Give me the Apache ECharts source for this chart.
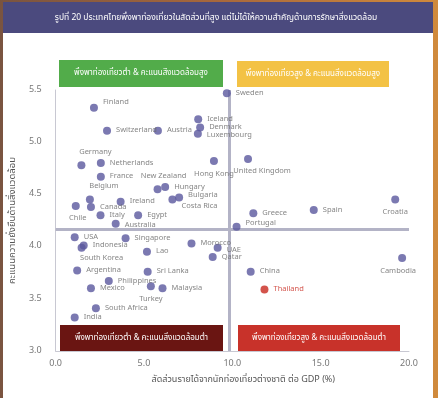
<!DOCTYPE html>
<html>
<head>
<meta charset="utf-8">
<script src="https://cdn.jsdelivr.net/npm/echarts@6/dist/echarts.min.js"></script>
<style>
  html, body { margin: 0; padding: 0; }
  body { width: 438px; height: 398px; background: linear-gradient(90deg, #7a5440 0%, #a8683c 50%, #d08a3c 100%); }
  #chart { width: 438px; height: 398px; }
</style>
</head>
<body>
<div id="chart"></div>
<script>
// countries, tourism receipts share of GDP (%), environmental score
const countries = ['Finland', 'Switzerland', 'Austria', 'Iceland', 'Denmark', 'Luxembourg', 'Sweden',
  'Germany', 'Netherlands', 'France', 'Hong Kong', 'New Zealand', 'Hungary', 'Bulgaria', 'Costa Rica',
  'Belgium', 'Canada', 'Chile', 'Ireland', 'Italy', 'Egypt', 'Australia', 'USA', 'Indonesia',
  'South Korea', 'Singapore', 'Lao', 'Morocco', 'UAE', 'Qatar', 'Argentina', 'Philippines',
  'Sri Lanka', 'Mexico', 'Turkey', 'Malaysia', 'South Africa', 'India', 'United Kingdom',
  'Greece', 'Spain', 'Croatia', 'Portugal', 'China', 'Thailand', 'Cambodia'];
const tourismShare = [2.17, 2.91, 5.79, 8.07, 8.18, 8.05, 9.69,
  1.46, 2.56, 2.56, 8.96, 5.77, 6.20, 6.99, 6.61,
  1.94, 2.00, 1.14, 3.68, 2.54, 4.67, 3.40, 1.08, 1.59,
  1.47, 3.96, 5.17, 7.69, 9.17, 8.89, 1.22, 3.01,
  5.21, 2.00, 5.39, 6.05, 2.28, 1.08, 10.89,
  11.19, 14.61, 19.22, 10.24, 11.04, 11.82, 19.61];
const envScore = [5.33, 5.11, 5.11, 5.22, 5.14, 5.08, 5.47,
  4.78, 4.80, 4.67, 4.82, 4.55, 4.57, 4.47, 4.45,
  4.45, 4.38, 4.39, 4.43, 4.30, 4.30, 4.22, 4.09, 4.01,
  3.99, 4.08, 3.95, 4.03, 3.99, 3.90, 3.77, 3.67,
  3.76, 3.60, 3.62, 3.60, 3.41, 3.32, 4.84,
  4.32, 4.35, 4.45, 4.19, 3.76, 3.59, 3.89];
const xTicks = [0, 5, 10, 15, 20];
const yTicks = [3.0, 3.5, 4.0, 4.5, 5.0, 5.5];
const xDivider = 9.85;
const yDivider = 4.17;
const highlight = 'Thailand';

const title = 'รูปที่ 20 ประเทศไทยพึ่งพาท่องเที่ยวในสัดส่วนที่สูง แต่ไม่ได้ให้ความสำคัญด้านการรักษาสิ่งแวดล้อม';
const xName = 'สัดส่วนรายได้จากนักท่องเที่ยวต่างชาติ ต่อ GDP (%)';
const yName = 'คะแนนความยั่งยืนด้านสิ่งแวดล้อม';
const quadLabels = ['พึ่งพาท่องเที่ยวต่ำ & คะแนนสิ่งแวดล้อมสูง', 'พึ่งพาท่องเที่ยวสูง & คะแนนสิ่งแวดล้อมสูง',
  'พึ่งพาท่องเที่ยวต่ำ & คะแนนสิ่งแวดล้อมต่ำ', 'พึ่งพาท่องเที่ยวสูง & คะแนนสิ่งแวดล้อมต่ำ'];

// label placement tweaks (style only)
const labelPos = {
  'Germany': { position: 'top', offset: [14, 0] },
  'New Zealand': { position: 'top', offset: [6, 0] },
  'Hong Kong': { position: 'bottom', offset: [0, 0] },
  'Belgium': { position: 'top', offset: [14, 0] },
  'Chile': { position: 'bottom', offset: [2, 0] },
  'South Korea': { position: 'bottom', offset: [20, -2] },
  'Turkey': { position: 'bottom', offset: [0, 0] },
  'United Kingdom': { position: 'bottom', offset: [14, 0] },
  'Croatia': { position: 'bottom', offset: [0, 0] },
  'Cambodia': { position: 'bottom', offset: [-4, 0] },
  'Costa Rica': { position: 'right', offset: [0, 7] },
  'Canada': { position: 'right', offset: [0, 1] },
  'Finland': { position: 'right', offset: [0, -5] },
  'Australia': { position: 'right', offset: [0, 2] },
  'UAE': { position: 'right', offset: [0, 3] },
  'Portugal': { position: 'right', offset: [0, -3] },
  'Bulgaria': { position: 'right', offset: [0, -2] },
  'Luxembourg': { position: 'right', offset: [0, 2] }
};

const font = '"Noto Sans Thai", "Noto Sans", "DejaVu Sans", sans-serif';

const points = countries.map(function (c, i) {
  const p = labelPos[c] || { position: 'right', offset: [0, 0] };
  const isHl = c === highlight;
  return {
    name: c,
    value: [tourismShare[i], envScore[i]],
    itemStyle: { color: isHl ? '#c8281e' : '#5a589e' },
    label: {
      show: true,
      formatter: c,
      position: p.position,
      offset: p.offset,
      distance: 5,
      fontSize: 7.5,
      fontFamily: font,
      color: isHl ? '#c8281e' : '#666'
    }
  };
});

function box(x, y, w, h, fill, text) {
  return {
    type: 'group',
    children: [
      { type: 'rect', shape: { x: x, y: y, width: w, height: h }, style: { fill: fill } },
      { type: 'text', x: x + w / 2, y: y + h / 2,
        style: { text: text, fill: '#fff', font: '8px ' + font, textAlign: 'center', textVerticalAlign: 'middle' } }
    ]
  };
}

const chart = echarts.init(document.getElementById('chart'));
chart.setOption({
  animation: false,
  graphic: [
    { type: 'rect', z: -10, shape: { x: 3, y: 2, width: 430, height: 396 }, style: { fill: '#fff' } },
    { type: 'rect', z: -9, shape: { x: 3, y: 2, width: 430, height: 31 }, style: { fill: '#4b4a7e' } },
    { type: 'text', x: 216, y: 18, style: { text: title, fill: '#fff', font: '8.5px ' + font, textAlign: 'center', textVerticalAlign: 'middle' } },
    box(59, 60, 164, 27, '#52ac4a', quadLabels[0]),
    box(237, 61, 152, 26, '#f3c245', quadLabels[1]),
    box(60, 325, 163, 26, '#6a1512', quadLabels[2]),
    box(238, 325, 162, 26, '#c8322a', quadLabels[3])
  ],
  grid: { left: 52, right: 29, top: 90, bottom: 47 },
  xAxis: {
    type: 'value', min: xTicks[0], max: xTicks[xTicks.length - 1], interval: 5,
    name: xName, nameLocation: 'middle', nameGap: 25,
    nameTextStyle: { fontSize: 9, color: '#555', fontFamily: font, padding: [0, 0, 0, 22] },
    axisLine: { show: true, lineStyle: { color: '#c8c8d2', width: 1 } },
    axisTick: { show: false },
    splitLine: { show: false },
    axisLabel: { fontSize: 9, color: '#777', margin: 9, fontFamily: font, formatter: function (v) { return v.toFixed(1); } }
  },
  yAxis: {
    type: 'value', min: yTicks[0], max: yTicks[yTicks.length - 1], interval: 0.5,
    name: yName, nameLocation: 'middle', nameGap: 30,
    nameTextStyle: { fontSize: 9.5, color: '#555', fontFamily: font },
    axisLine: { show: true, lineStyle: { color: '#c8c8d2', width: 1 } },
    axisTick: { show: false },
    splitLine: { show: false },
    axisLabel: { fontSize: 9, color: '#777', margin: 14, fontFamily: font, formatter: function (v) { return v.toFixed(1); } }
  },
  series: [{
    type: 'scatter',
    symbolSize: 8,
    data: points,
    z: 3,
    markLine: {
      silent: true,
      symbol: 'none',
      z: 1,
      label: { show: false },
      lineStyle: { color: '#b3b3c6', width: 3, type: 'solid' },
      data: [{ xAxis: xDivider }, { yAxis: yDivider }]
    }
  }]
});
</script>
</body>
</html>
